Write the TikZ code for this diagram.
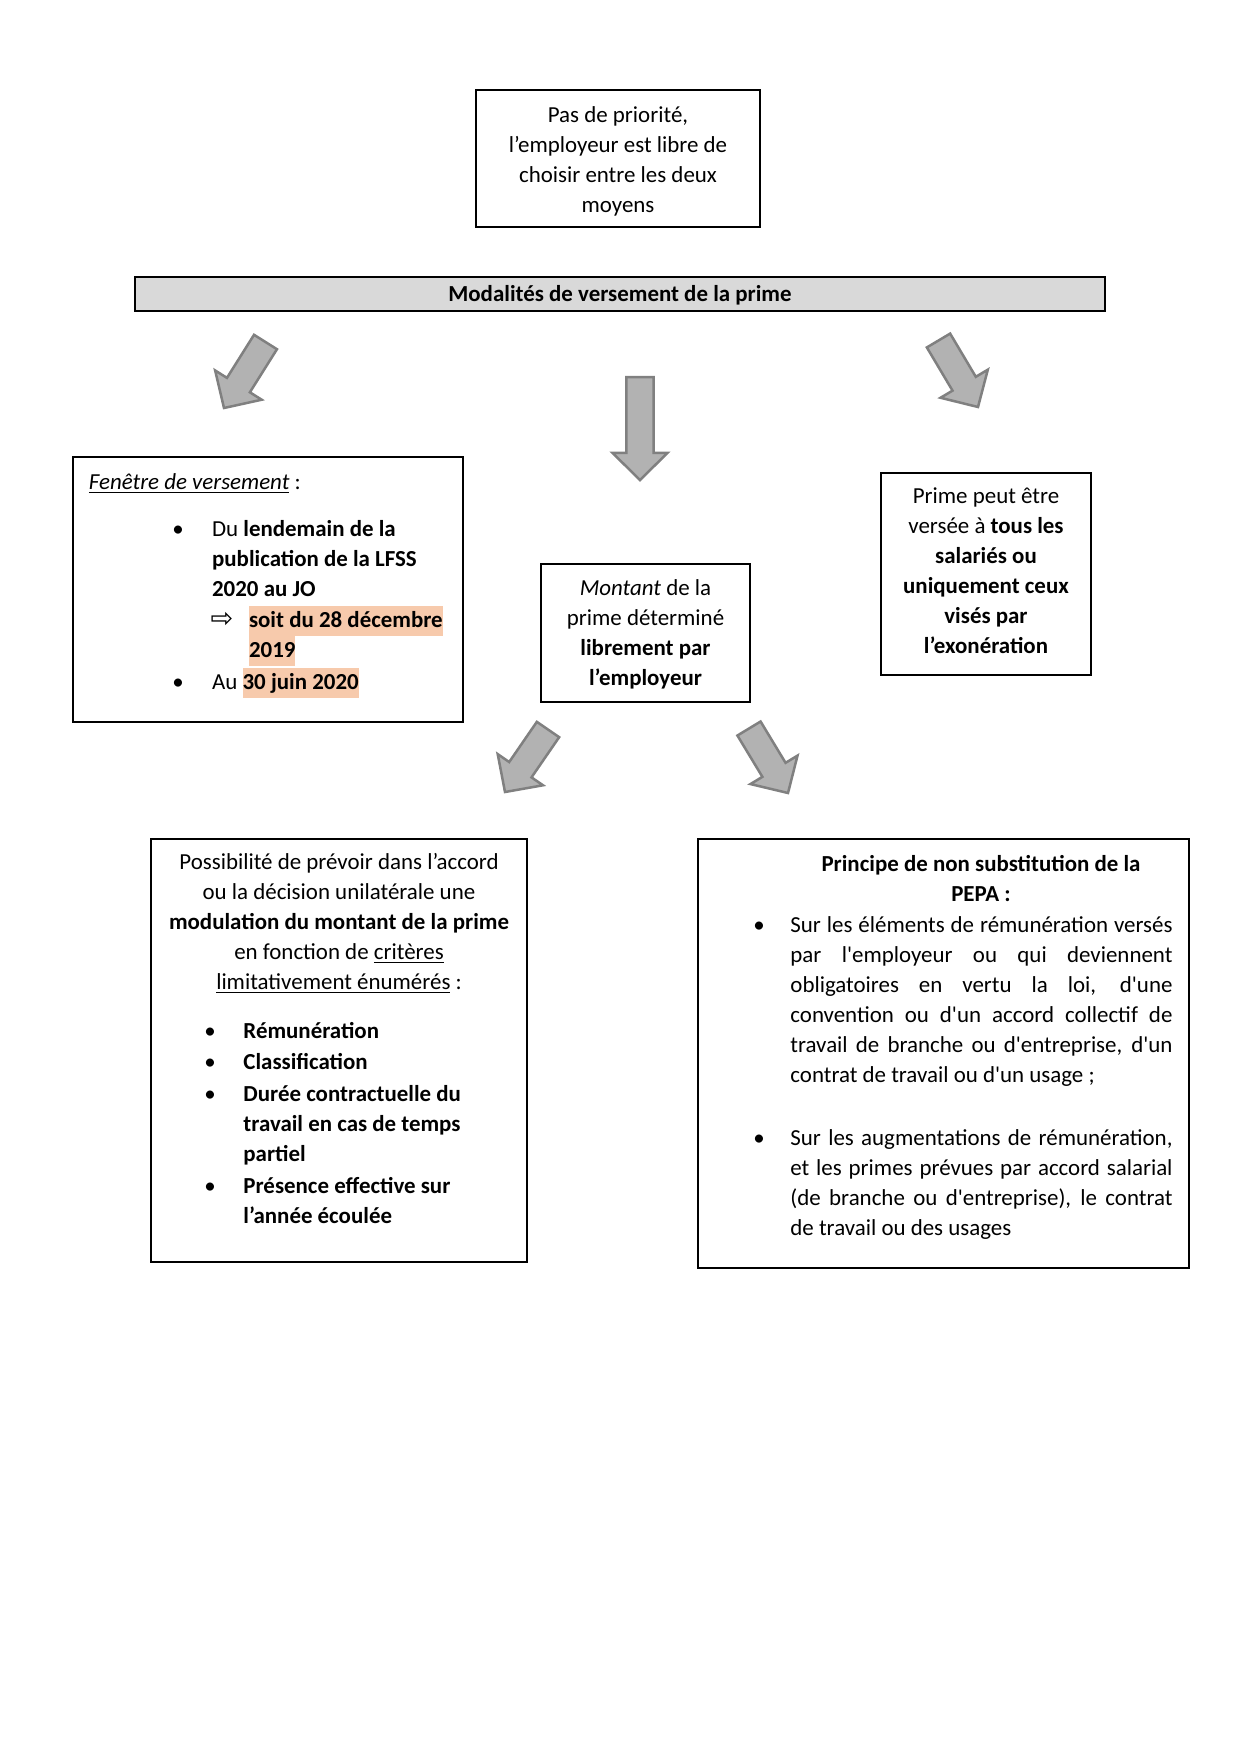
\documentclass[tikz,border=0pt]{standalone}
\usepackage{fontspec}
\setmainfont{Carlito}
\newfontfamily\djv{DejaVu Sans}
\usetikzlibrary{calc}
\definecolor{hlc}{HTML}{F7CAAC}
\definecolor{bannerfill}{HTML}{D9D9D9}
\definecolor{arrfill}{HTML}{B2B2B2}
\definecolor{arrdraw}{HTML}{808080}
\newcommand\hlt[1]{{\setlength\fboxsep{0pt}\colorbox{hlc}{\rule[-4.4pt]{0pt}{14.4pt}#1}}}
\newcommand\blockarrow[2]{%
  \coordinate (#1-b) at ($(#2)!13pt!(#1)$);
  \draw[barrow] ($(#1)!6.5pt!90:(#2)$) -- ($(#1-b)!6.5pt!90:(#2)$) -- ($(#1-b)!13.2pt!90:(#2)$) -- (#2)
    -- ($(#1-b)!13.2pt!-90:(#2)$) -- ($(#1-b)!6.5pt!-90:(#2)$) -- ($(#1)!6.5pt!-90:(#2)$) -- cycle;}
\newcommand\jpar[2]{\parbox[t]{#1}{\hyphenpenalty=10000 \tolerance=10000 \hbadness=10000 #2}}
\begin{document}
\begin{tikzpicture}[x=0.48pt,y=-0.48pt,
  every node/.style={font=\fontsize{11}{14.4}\selectfont},
  box/.style={draw=black,line width=1.2pt,inner sep=0pt},
  txt/.style={inner sep=0pt},
  barrow/.style={fill=arrfill,draw=arrdraw,line width=1.2pt,line join=miter}]
\fill[white] (0,0) rectangle (1240,1754);
\useasboundingbox (0,0) rectangle (1240,1754);

% top box
\node[box, minimum width=136.32pt, minimum height=65.76pt] (top) at (618,158.5) {};
\node[txt, align=center] (topt) at (618,161)
  {Pas de priorité,\\ l’employeur est libre de\\ choisir entre les deux\\ moyens};

% banner
\node[box, fill=bannerfill, line width=1pt, minimum width=465.6pt, minimum height=16.32pt] (banner) at (620,294) {};
\node[txt] (bannert) at (620,295) {\bfseries Modalités de versement de la prime};

% block arrows
\coordinate (a1t) at (265.5,342); \coordinate (a1p) at (224,408);
\coordinate (a2t) at (640,377);   \coordinate (a2p) at (640,480);
\coordinate (a3t) at (938.5,340.5); \coordinate (a3p) at (978,407);
\coordinate (a4t) at (548,729.5); \coordinate (a4p) at (505,792);
\coordinate (a5t) at (749,728.5); \coordinate (a5p) at (788,793);
\blockarrow{a1t}{a1p}
\blockarrow{a2t}{a2p}
\blockarrow{a3t}{a3p}
\blockarrow{a4t}{a4p}
\blockarrow{a5t}{a5p}

% Fenetre box
\node[box, minimum width=187.2pt, minimum height=127.2pt] (fen) at (268,589.5) {};
\node[txt, anchor=base west] (fent) at (88.5,489) {\underline{\textit{Fenêtre de versement}} :};
\node[txt, anchor=base] (fenb1) at (178,536.5) {\textbullet};
\node[txt, anchor=base west] (fen1) at (211.7,536.5)
  {\parbox[t]{110pt}{Du \textbf{lendemain de la}\\ \textbf{publication de la LFSS}\\ \textbf{2020 au JO}}};
\node[txt, anchor=base] (fenarr) at (222,627) {\djv\fontsize{13}{14}\selectfont ⇨};
\node[txt, anchor=base west] (fen2) at (248.6,627)
  {\parbox[t]{110pt}{\hlt{\textbf{soit du 28 décembre}}\\ \hlt{\textbf{2019}}}};
\node[txt, anchor=base] (fenb2) at (178,689) {\textbullet};
\node[txt, anchor=base west] (fen3) at (211.7,689) {Au \hlt{\textbf{30 juin 2020}}};

% Montant box
\node[box, minimum width=100.32pt, minimum height=66.24pt] (mont) at (645.5,633) {};
\node[txt, align=center] (montt) at (645.5,634)
  {\textit{Montant} de la\\ prime déterminé\\ \textbf{librement par}\\ \textbf{l’employeur}};

% Prime box
\node[box, minimum width=100.8pt, minimum height=96.96pt] (prime) at (986,574) {};
\node[txt, align=center] (primet) at (986,571)
  {Prime peut être\\ versée à \textbf{tous les}\\ \textbf{salariés ou}\\ \textbf{uniquement ceux}\\ \textbf{visés par}\\ \textbf{l’exonération}};

% Possibilite box
\node[box, minimum width=180.48pt, minimum height=203.04pt] (poss) at (339,1050.5) {};
\node[txt, anchor=base] (posst) at (339,869.5)
  {\parbox[t]{175pt}{\centering Possibilité de prévoir dans l’accord\\ ou la décision unilatérale une\\ \textbf{modulation du montant de la prime}\\ en fonction de \underline{critères}\\ \underline{limitativement énumérés} :}};
\node[txt, anchor=base] (pb1) at (210,1038.5) {\textbullet};
\node[txt, anchor=base west] (pi1) at (243,1038.5) {\textbf{Rémunération}};
\node[txt, anchor=base] (pb2) at (210,1069.5) {\textbullet};
\node[txt, anchor=base west] (pi2) at (243,1069.5) {\textbf{Classification}};
\node[txt, anchor=base] (pb3) at (210,1101.5) {\textbullet};
\node[txt, anchor=base west] (pi3) at (243,1101.5)
  {\parbox[t]{110pt}{\bfseries Durée contractuelle du\\ travail en cas de temps\\ partiel}};
\node[txt, anchor=base] (pb4) at (210,1193.5) {\textbullet};
\node[txt, anchor=base west] (pi4) at (243,1193.5)
  {\parbox[t]{110pt}{\bfseries Présence effective sur\\ l’année écoulée}};

% PEPA box
\node[box, minimum width=235.68pt, minimum height=205.92pt] (pepa) at (943.5,1053.5) {};
\node[txt, anchor=base] (pepat) at (981,871)
  {\parbox[t]{190pt}{\centering\bfseries Principe de non substitution de la\\ PEPA :}};
\node[txt, anchor=base] (qb1) at (759,932.5) {\textbullet};
\node[txt, anchor=base west] (qi1) at (790,932.5)
  {\jpar{183.4pt}{Sur les éléments de rémunération versés\linebreak
   par l\textquotesingle employeur ou qui deviennent\linebreak
   obligatoires en vertu la loi, d\textquotesingle une\linebreak
   convention ou d\textquotesingle un accord collectif de\linebreak
   travail de branche ou d\textquotesingle entreprise, d\textquotesingle un\linebreak
   contrat de travail ou d\textquotesingle un usage ;}};
\node[txt, anchor=base] (qb2) at (759,1145.5) {\textbullet};
\node[txt, anchor=base west] (qi2) at (790,1145.5)
  {\jpar{183.4pt}{Sur les augmentations de rémunération,\linebreak
   et les primes prévues par accord salarial\linebreak
   (de branche ou d\textquotesingle entreprise), le contrat\linebreak
   de travail ou des usages}};
\end{tikzpicture}
\end{document}
